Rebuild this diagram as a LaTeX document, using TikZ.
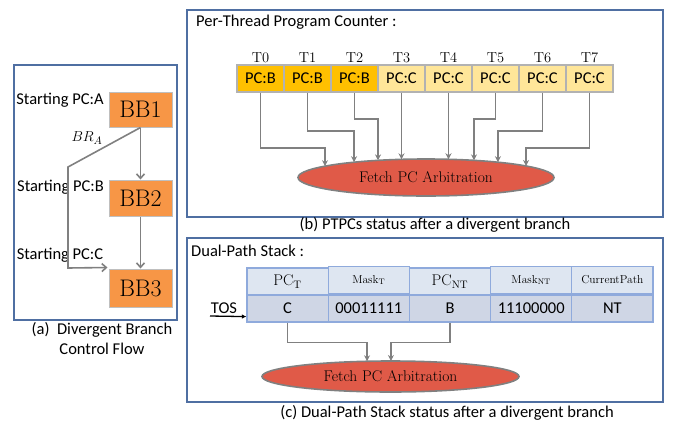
\documentclass[tikz,border=0pt]{standalone}
\usepackage{fontspec}
\setsansfont{Carlito}
\usetikzlibrary{shapes.geometric,calc,arrows.meta}

\definecolor{frameblue}{RGB}{79,111,162}
\definecolor{bborange}{RGB}{247,150,70}
\definecolor{pcgold}{RGB}{255,192,0}
\definecolor{pclight}{RGB}{255,230,153}
\definecolor{arbred}{RGB}{224,90,72}
\definecolor{wire}{RGB}{128,128,128}
\definecolor{hdrblue}{RGB}{222,230,241}
\definecolor{rowblue}{RGB}{207,214,229}
\definecolor{gridblue}{RGB}{143,170,220}

\tikzset{
  panel/.style={draw=frameblue, line width=1.8pt},
  sanslbl/.style={font=\sffamily\fontsize{16.5}{20}\selectfont, inner sep=0pt},
  bbox/.style={draw=black!25, line width=1pt, fill=bborange, inner sep=0pt,
    minimum width=63pt, font=\fontsize{24}{24}\selectfont},
  flow/.style={draw=wire, line width=1.6pt, -{Straight Barb[length=4.5pt,width=8pt]}},
  wirearr/.style={draw=wire, line width=1.6pt, -{Stealth[length=6pt,width=6pt]}},
  pccell/.style={draw=black!30, line width=1.4pt, minimum width=47pt, minimum height=27pt,
    inner sep=0pt, font=\sffamily\fontsize{16.5}{16.5}\selectfont},
  tlbl/.style={font=\fontsize{14.5}{14.5}\selectfont, inner sep=0pt},
  arbiter/.style={ellipse, draw=wire, line width=1.6pt, fill=arbred, inner sep=0pt,
    font=\fontsize{15.5}{15.5}\selectfont},
  hcell/.style={draw=gridblue, line width=1.2pt, fill=hdrblue, minimum width=81.2pt,
    minimum height=27pt, inner sep=0pt},
  dcell/.style={draw=gridblue, line width=1.2pt, fill=rowblue, minimum width=81.2pt,
    minimum height=27pt, inner sep=0pt, font=\sffamily\fontsize{16.5}{16.5}\selectfont},
  bigh/.style={font=\fontsize{15.5}{15.5}\selectfont},
  smallh/.style={font=\fontsize{11.5}{11.5}\selectfont},
}

\begin{document}
\begin{tikzpicture}[x=1pt,y=-1pt]
\useasboundingbox (0,0) rectangle (681,424);

% ---------------- (a) control flow ----------------
\draw[panel] (14,65) rectangle (177,320);
\node[bbox, minimum height=35pt] (bb1) at (140.5,109.5) {BB1};
\node[bbox, minimum height=36pt] (bb2) at (140.5,198) {BB2};
\node[bbox, minimum height=38pt] (bb3) at (140.5,288) {BB3};

\node[sanslbl] (sa) at (60,100) {Starting PC:A};
\node[sanslbl] (sb) at (60.5,187) {Starting PC:B};
\node[sanslbl] (sc) at (60,255) {Starting PC:C};
\node[font=\fontsize{15}{15}\selectfont, inner sep=0pt] (bra) at (87,138) {$BR_A$};

\draw[flow] (bb1.south) -- (bb2.north);
\draw[flow] (bb2.south) -- (bb3.north);
\coordinate (bendA) at (68,167);
\coordinate (bendB) at (68,268);
\draw[flow] (bb1.south) -- (bendA) -- (bendB) -- ([xshift=-1pt,yshift=1pt]bb3.north west);

\node[sanslbl, align=center] (capa) at (102,339) {(a)\ \ Divergent Branch\\[0pt]Control Flow};

% ---------------- (b) per-thread PCs ----------------
\draw[panel] (187,10) rectangle (663,217);
\node[sanslbl, anchor=west] (ttlb) at (196,22) {Per-Thread Program Counter :};

\foreach \i/\t/\c in {0/B/pcgold,1/B/pcgold,2/B/pcgold,3/C/pclight,4/C/pclight,5/C/pclight,6/C/pclight,7/C/pclight}{
  \node[pccell, fill=\c] (c\i) at (260.5+47*\i,78.5) {PC:\t};
  \node[tlbl] (t\i) at (260.5+47*\i,58) {T\i};
}

\node[arbiter, minimum width=256pt, minimum height=37pt] (arb) at (426,177.5) {Fetch PC Arbitration};

\coordinate (e0) at ($(arb.center)+(142.1:128pt and 18.5pt)$);
\coordinate (e1) at ($(arb.center)+(124.2:128pt and 18.5pt)$);
\coordinate (e2) at ($(arb.center)+(112.0:128pt and 18.5pt)$);
\coordinate (e3) at ($(arb.center)+(100.8:128pt and 18.5pt)$);
\coordinate (e4) at ($(arb.center)+(80.1:128pt and 18.5pt)$);
\coordinate (e5) at ($(arb.center)+(68.0:128pt and 18.5pt)$);
\coordinate (e6) at ($(arb.center)+(55.8:128pt and 18.5pt)$);
\coordinate (e7) at ($(arb.center)+(38.6:128pt and 18.5pt)$);

\draw[wirearr] (c0.south) -- ++(0,55) -| (e0);
\draw[wirearr] (c1.south) -- ++(0,38) -| (e1);
\draw[wirearr] (c2.south) -- ++(0,26) -| (e2);
\draw[wirearr] (c3.south) -- (c3.south |- e3);
\draw[wirearr] (c4.south) -- (c4.south |- e4);
\draw[wirearr] (c5.south) -- ++(0,26) -| (e5);
\draw[wirearr] (c6.south) -- ++(0,38) -| (e6);
\draw[wirearr] (c7.south) -- ++(0,55) -| (e7);

\node[sanslbl] (capb) at (435,225) {(b) PTPCs status after a divergent branch};

% ---------------- (c) dual-path stack ----------------
\draw[panel] (187,238) rectangle (663,402);
\node[sanslbl, anchor=west] (ttlc) at (191,251) {Dual-Path Stack :};

\node[hcell, bigh]   (h1) at (287.6,281.5) {PC$_{\mathrm{T}}$};
\node[hcell, smallh] (h2) at (368.8,280) {Mask$_{\mathrm{T}}$};
\node[hcell, bigh]   (h3) at (450.0,281.5) {PC$_{\mathrm{NT}}$};
\node[hcell, smallh] (h4) at (531.2,280) {Mask$_{\mathrm{NT}}$};
\node[hcell, smallh] (h5) at (612.4,280) {CurrentPath};

\node[dcell] (d1) at (287.6,308.5) {C};
\node[dcell] (d2) at (368.8,308.5) {00011111};
\node[dcell] (d3) at (450.0,308.5) {B};
\node[dcell] (d4) at (531.2,308.5) {11100000};
\node[dcell] (d5) at (612.4,308.5) {NT};

\coordinate (tosA) at (210,316);
\draw[line width=1.3pt, -{Latex[length=4.5pt,width=4.5pt]}] (tosA) -- ($(d1.south west)+(0,-6)$);
\node[sanslbl, anchor=base] (tos) at (224,313) {TOS};

\node[arbiter, minimum width=257pt, minimum height=31pt] (arb2) at (390.5,376.5) {Fetch PC Arbitration};
\coordinate (f1) at ($(arb2.center)+(100.5:128.5pt and 15.5pt)$);
\coordinate (f3) at ($(arb2.center)+(89.8:128.5pt and 15.5pt)$);
\draw[wirearr] (d1.south) -- ++(0,20) -| (f1);
\draw[wirearr] (d3.south) -- ++(0,20) -| (f3);

\node[sanslbl] (capc) at (447,413) {(c) Dual-Path Stack status after a divergent branch};
\end{tikzpicture}
\end{document}
